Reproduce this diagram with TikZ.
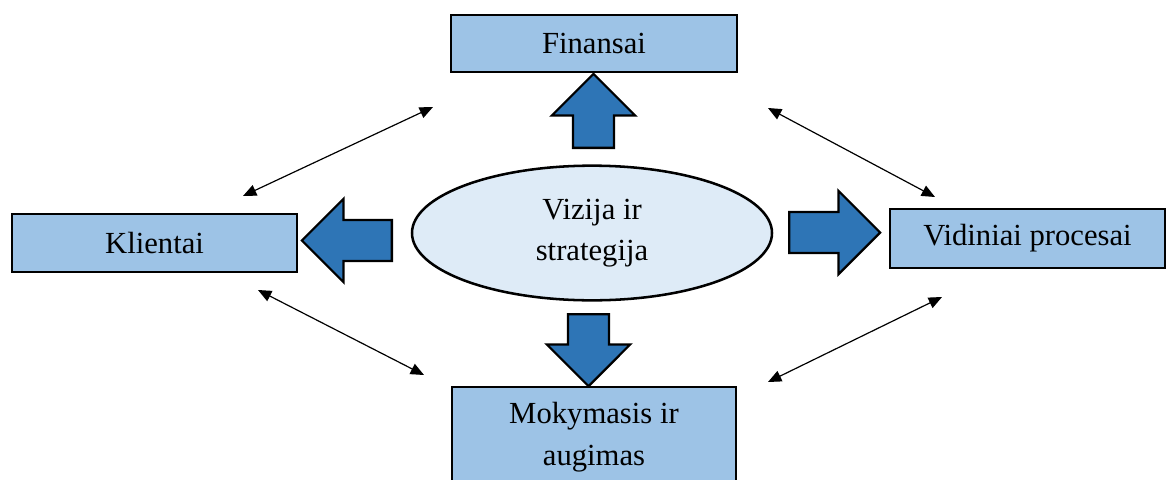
\documentclass[tikz,border=0pt]{standalone}
\usepackage{fontspec}
\setmainfont{Liberation Serif}
\usetikzlibrary{shapes.geometric,shapes.arrows,arrows.meta}

\definecolor{boxblue}{RGB}{157,195,230}
\definecolor{arrowblue}{RGB}{46,117,182}
\definecolor{ovalblue}{RGB}{222,235,247}

\tikzstyle{perspective}=[rectangle,draw,line width=1.8pt,fill=boxblue,inner sep=0pt,align=center,font=\fontsize{23}{31}\selectfont]
\tikzstyle{vision}=[ellipse,draw,line width=1.9pt,fill=ovalblue,inner sep=0pt,minimum width=270pt,minimum height=101pt,align=center,font=\fontsize{23}{31}\selectfont]
\tikzstyle{block arrow}=[single arrow,draw,line width=1.7pt,fill=arrowblue,inner xsep=0pt,inner ysep=14.6pt,single arrow head extend=15.75pt,anchor=tail]
\tikzstyle{link edge} = [draw,line width=0.9pt,{Triangle[length=10pt,width=8.5pt]}-{Triangle[length=10pt,width=8.5pt]}]

\begin{document}
\begin{tikzpicture}[x=0.75pt,y=-0.75pt]
		\clip (0,0) rectangle (1167,479);
			% the vision in the middle
			\node[vision] (vision) at (592,233) {Vizija ir\\strategija};
			% the four perspectives
			\node[perspective,minimum width=214.5pt,minimum height=42.75pt] (finance) at (594,43.5) {Finansai};
			\node[perspective,minimum width=213.75pt,minimum height=43.5pt] (clients) at (154.5,243) {Klientai};
			\node[perspective,minimum width=206.25pt,minimum height=44.25pt] (process) at (1027.5,238.5) {Vidiniai procesai};
			\node[perspective,minimum width=213pt,minimum height=75pt] (learning) at (594,437) {Mokymasis ir\\augimas};
			% big arrows out of the vision
			\node[block arrow,rotate=90,minimum height=55.5pt] (up) at (593.5,149) {};
			\node[block arrow,rotate=180,minimum height=67.5pt] (left) at (393,240.5) {};
			\node[block arrow,minimum height=68.25pt] (right) at (788,232.5) {};
			\node[block arrow,rotate=-90,minimum height=54pt] (down) at (588.5,313) {};
	    		% ends of the thin links
			\coordinate (cf) at (243,196);
			\coordinate (fc) at (433,107);
			\coordinate (fp) at (768,108);
			\coordinate (pf) at (935,197);
			\coordinate (pm) at (942,297);
			\coordinate (mp) at (768,382);
			\coordinate (mc) at (424,375);
			\coordinate (cm) at (258,290);
	   		 % links between perspectives
	   		 \foreach \source/ \dest in {cf/fc, fp/pf, pm/mp, mc/cm}
			 \path[link edge] (\source) to (\dest);
		\end{tikzpicture}
\end{document}
